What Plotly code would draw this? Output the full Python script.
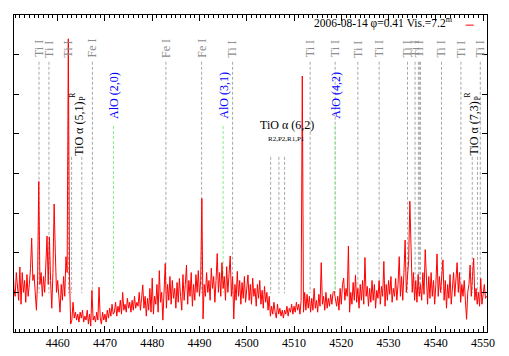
import numpy as np
import plotly.graph_objects as go

WL_START = 4450.0
WL_STEP = 0.25
FLUX = [
    1.5, 1.7, 1.8, 1.1,  0.9, 1.5, 1.2, 0.8,  1.64, 0.7, 1.5, 1.0,  1.3, 0.75, 1.45, 0.9,
    1.2, 1.6, 2.37, 1.3,  1.45, 0.9, 0.55, 1.3,  3.8, 1.2, 1.5, 0.9,  1.4, 1.0, 1.6, 2.42,
    1.2, 2.4, 1.3, 0.6,  1.5, 3.23, 2.0, 1.0,  1.3, 0.9, 0.5, 1.2,  0.8, 1.4, 0.9, 1.9,
    1.5, 7.4, 1.4, 0.2,  0.3, 0.75, 0.35, 0.5,  0.3, 0.45, 0.25, 0.5,  0.35, 0.55, 0.25, 0.4,
    0.3, 0.55, 0.2, 0.45,  0.15, 1.05, 0.3, 0.4,  0.25, 0.5, 0.3, 1.13,  0.35, 0.2, 0.5, 0.3,
    0.45, 0.25, 0.55, 0.35,  0.6, 0.4, 0.7, 0.45,  0.5, 0.75, 0.4, 0.65,  0.5, 0.8, 0.45, 1.0,
    0.55, 0.7, 0.5, 0.85,  0.6, 0.75, 0.5, 0.8,  0.55, 0.9, 0.6, 0.75,  0.65, 1.0, 0.55, 0.85,
    1.19, 0.6, 0.9, 0.4,  0.85, 0.55, 1.1, 0.5,  1.36, 0.45, 0.9, 0.7,  1.2, 0.5, 1.55, 0.75,
    1.0, 0.3, 1.3, 1.73,  0.6, 1.2, 0.8, 1.4,  0.7, 1.3, 0.85, 1.1,  0.6, 1.25, 0.75, 1.35,
    0.9, 0.55, 1.45, 0.8,  1.2, 1.69, 0.7, 1.3,  0.9, 1.5, 0.65, 1.2,  0.8, 1.45, 1.0, 1.55,
    0.9, 1.3, 3.37, 0.33,  1.2, 0.9, 1.5, 1.0,  1.3, 0.8, 1.61, 1.1,  1.4, 0.75, 1.3, 1.98,
    1.0, 1.5, 0.9, 1.75,  1.1, 1.4, 0.8, 1.65,  1.0, 1.5, 1.92, 0.9,  1.4, 0.33, 1.2, 0.8,
    1.53, 0.9, 1.3, 0.7,  1.25, 0.85, 1.4, 0.75,  1.1, 1.44, 0.8, 1.2,  0.7, 1.36, 0.9, 1.1,
    0.65, 1.2, 0.85, 1.3,  0.7, 1.05, 0.6, 1.15,  0.75, 1.0, 0.55, 0.9,  0.4, 0.65, 0.45, 0.75,
    0.5, 0.35, 0.7, 0.45,  0.6, 0.4, 0.55, 0.35,  0.55, 0.45, 0.65, 0.4,  0.6, 0.5, 0.7, 0.45,
    0.65, 0.5, 0.75, 0.55,  0.7, 0.45, 0.8, 6.46,  0.5, 1.0, 0.55, 0.95,  0.6, 0.9, 0.5, 0.85,
    0.55, 1.1, 0.6, 0.8,  0.5, 0.95, 0.65, 1.75,  0.7, 0.9, 0.55, 1.0,  0.6, 0.85, 0.65, 0.95,
    0.7, 1.0, 1.03, 0.8,  0.65, 0.9, 0.55, 1.1,  0.7, 1.2, 1.36, 0.8,  1.1, 0.9, 2.17, 0.5,
    1.0, 0.7, 1.25, 0.8,  1.44, 0.75, 1.1, 0.6,  1.2, 0.8, 1.3, 0.7,  1.88, 0.9, 1.15, 0.65,
    1.1, 0.75, 1.3, 0.8,  1.2, 0.6, 1.05, 0.85,  1.3, 0.7, 1.15, 0.9,  1.78, 0.65, 1.2, 0.8,
    1.3, 0.95, 1.4, 0.75,  1.1, 0.9, 1.35, 0.8,  1.2, 1.9, 0.9, 1.4,  0.8, 1.5, 2.32, 1.0,
    1.4, 1.8, 3.3, 1.8,  1.0, 1.5, 0.8, 1.3,  0.75, 1.45, 0.9, 1.2,  0.8, 1.5, 0.95, 2.08,
    1.1, 0.7, 1.4, 0.85,  1.5, 0.9, 1.3, 0.7,  1.2, 1.97, 0.9, 1.4,  1.0, 1.6, 1.82, 0.8,
    1.3, 0.6, 1.2, 0.85,  1.45, 0.7, 1.1, 1.5,  0.9, 1.3, 1.75, 1.0,  1.5, 0.75, 1.2, 0.9,
    1.3, 0.8, 0.32, 1.0,  1.2, 1.69, 0.9, 1.4,  1.86, 0.8, 1.1, 0.7,  1.0, 0.65, 1.35, 0.7,
    1.0, 1.2, 0.85, 0.9,  0.9,
]

# line identifications (wavelength in A)
TI_I = [4456.05, 4458.15, 4462.3, 4497.0, 4513.4, 4518.7, 4523.5, 4528.0,
        4534.0, 4535.6, 4536.5, 4541.2, 4545.3, 4549.4]
TI_I_BLENDS = [4536.3, 4536.75]
FE_I = [4467.35, 4482.9, 4490.45]
ALO = [4471.8, 4495.0, 4518.7]
ALO_LABELS = ["AlO (2,0)", "AlO (3,1)", "AlO (4,2)"]
TIO_51 = [4462.95, 4465.1]
TIO_62 = [4505.05, 4506.8, 4508.0]
TIO_73 = [4547.7, 4548.8]

LEGEND_TEXT = "2006-08-14 φ=0.41 Vis.=7.2<sup>m</sup>"

ATOM_TOP = 6.82
ALO_TOP = 5.2
TIO_TOP = 4.42
LINE_BOTTOM = 0.98
SERIF = "Liberation Serif, Times New Roman, serif"


def segments(xs, y0, y1):
    x, y = [], []
    for v in xs:
        x += [v, v, None]
        y += [y0, y1, None]
    return x, y


wavelength = WL_START + WL_STEP * np.arange(len(FLUX))

fig = go.Figure()

gray = dict(color="#a8a8a8", width=1, dash="3px,2px")
for xs, top in [(TI_I + TI_I_BLENDS + FE_I, ATOM_TOP), (TIO_51 + TIO_62 + TIO_73, TIO_TOP)]:
    x, y = segments(xs, top, LINE_BOTTOM)
    fig.add_trace(go.Scatter(x=x, y=y, mode="lines", line=gray, hoverinfo="skip"))
x, y = segments(ALO, ALO_TOP, LINE_BOTTOM)
fig.add_trace(go.Scatter(x=x, y=y, mode="lines", hoverinfo="skip",
                         line=dict(color="#88ee88", width=1, dash="3px,2px")))

fig.add_trace(go.Scatter(x=wavelength, y=FLUX, mode="lines",
                         line=dict(color="#ff0000", width=1)))

ann = []
for v in TI_I:
    ann.append(dict(x=v, y=6.9, text="Ti I", textangle=-90, yanchor="bottom",
                    font=dict(color="#8c8c8c", size=12, family=SERIF)))
for v in FE_I:
    ann.append(dict(x=v, y=6.9, text="Fe I", textangle=-90, yanchor="bottom",
                    font=dict(color="#8c8c8c", size=12, family=SERIF)))
for v, t in zip(ALO, ALO_LABELS):
    ann.append(dict(x=v, y=5.35, text=t, textangle=-90, yanchor="bottom",
                    font=dict(color="#0000ff", size=12, family=SERIF)))

# rotated TiO band-head labels with stacked R / P marks
for xs, name, off in ((TIO_51, "5,1", 1.55), (TIO_73, "7,3", 0.3)):
    cx = xs[0] + off
    ann.append(dict(x=cx, y=TIO_TOP, text="TiO α (%s)" % name,
                    textangle=-90, yanchor="bottom",
                    font=dict(color="black", size=12, family=SERIF)))
    ann.append(dict(x=cx, xshift=-7, y=5.88, text="R", textangle=-90, yanchor="bottom",
                    font=dict(color="black", size=8, family=SERIF)))
    ann.append(dict(x=cx, xshift=4, y=5.82, text="P", textangle=-90, yanchor="bottom",
                    font=dict(color="black", size=8, family=SERIF)))

ann.append(dict(x=np.mean(TIO_62) + 1.8, y=5.23, text="TiO α (6,2)",
                font=dict(color="black", size=12, family=SERIF)))
ann.append(dict(x=np.mean(TIO_62) + 1.8, y=4.87, text="R2,P2,R1,P1",
                font=dict(color="black", size=7, family=SERIF)))

ann.append(dict(x=0.93, y=0.976, xref="paper", yref="paper", xanchor="right",
                yanchor="middle", text=LEGEND_TEXT,
                font=dict(color="black", size=11.5, family=SERIF)))
for a in ann:
    a.setdefault("showarrow", False)
    a["borderpad"] = 0

fig.add_shape(type="line", xref="paper", yref="paper", x0=0.955, x1=0.972,
              y0=0.968, y1=0.968, line=dict(color="#ff0000", width=1))

# page body keeps its default 8px margin, so the figure is 8px smaller
fig.update_layout(
    width=501, height=348,
    margin=dict(l=6, r=22, t=7, b=24),
    paper_bgcolor="white", plot_bgcolor="white",
    showlegend=False,
    annotations=ann,
    font=dict(family=SERIF, size=12, color="black"),
    xaxis=dict(range=[4450.76, 4550.82], dtick=10, ticks="inside", ticklen=6,
               tickcolor="black", showline=True, linecolor="black", linewidth=1,
               mirror="allticks", showgrid=False, zeroline=False,
               minor=dict(dtick=1, ticks="inside", ticklen=3, tickcolor="black"),
               tickfont=dict(size=12, family=SERIF)),
    yaxis=dict(range=[0, 8], dtick=1, ticks="inside", ticklen=5, tickcolor="black",
               showline=True, linecolor="black", linewidth=1, mirror="allticks",
               showgrid=False, zeroline=False, showticklabels=False),
)

fig.write_html("out.html")
